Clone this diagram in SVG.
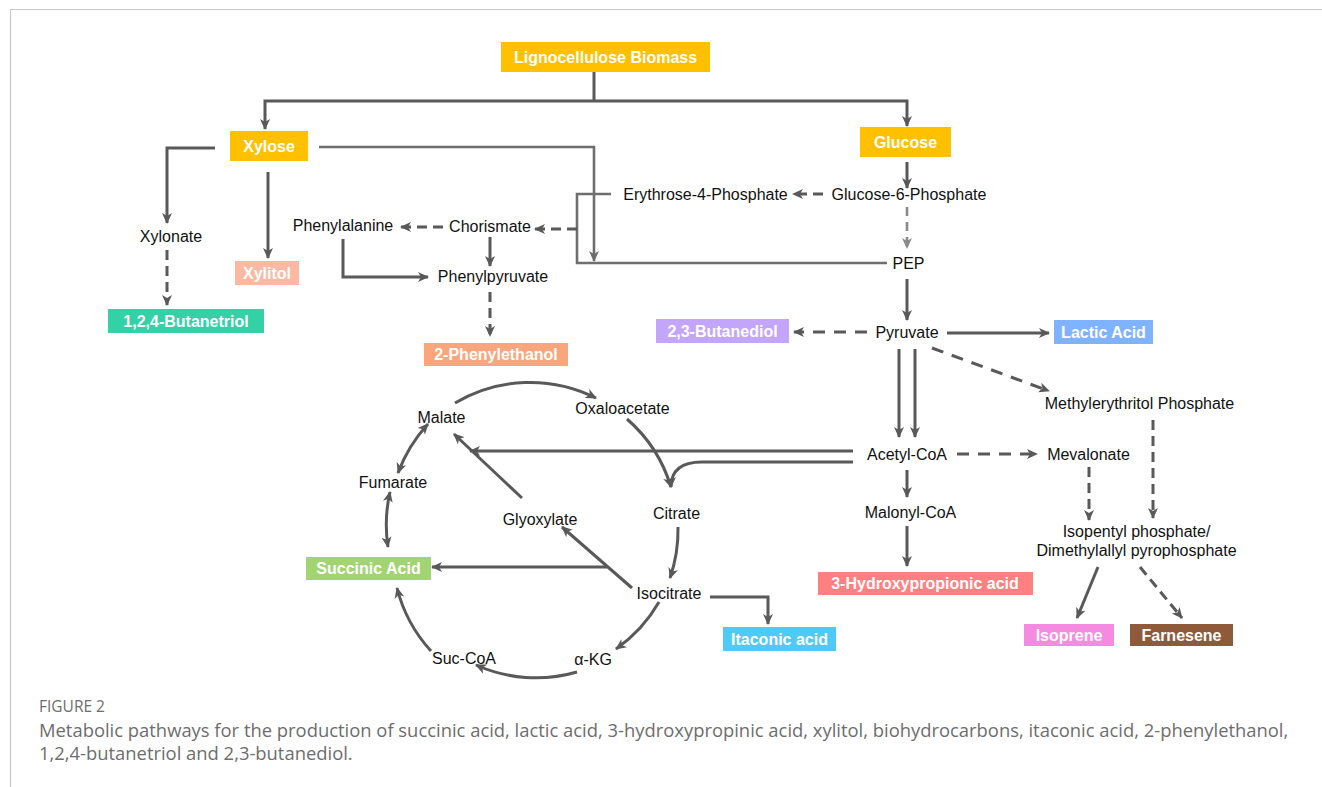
<svg xmlns="http://www.w3.org/2000/svg" width="1322" height="787" viewBox="0 0 1322 787">
<defs>
<marker id="ah" markerUnits="userSpaceOnUse" markerWidth="12" markerHeight="12" viewBox="0 0 12 12" refX="10" refY="6" orient="auto-start-reverse">
<path d="M0,1 L11,6 L0,11 L3,6 Z" fill="#595959"/>
</marker>
<marker id="ahl" markerUnits="userSpaceOnUse" markerWidth="12" markerHeight="12" viewBox="0 0 12 12" refX="10" refY="6" orient="auto">
<path d="M0,1 L11,6 L0,11 L3,6 Z" fill="#8a8a8a"/>
</marker>
<marker id="aht" markerUnits="userSpaceOnUse" markerWidth="12" markerHeight="12" viewBox="0 0 12 12" refX="10" refY="6" orient="auto">
<path d="M0,1 L11,6 L0,11 L3,6 Z" fill="#6e6e6e"/>
</marker>
</defs>
<style>
.ln{fill:none;stroke:#595959;stroke-width:3}
.th{fill:none;stroke:#6e6e6e;stroke-width:2.6}
.ds{stroke-dasharray:10 6}
.dl{stroke-dasharray:12 9}
.ar{marker-end:url(#ah)}
.lbl{font-family:"Liberation Sans",Arial,sans-serif;font-size:16px;fill:#111;text-anchor:middle}
.bt{font-family:"Liberation Sans",Arial,sans-serif;font-size:16px;font-weight:bold;fill:#fff;text-anchor:middle}
.cap{font-family:"Open Sans","Liberation Sans",sans-serif;fill:#6d6d6d}
</style>
<rect width="1322" height="787" fill="#fff"/>
<path d="M10.5,787 V9.5 H1322" fill="none" stroke="#c8c8c8" stroke-width="1.2"/>

<g id="connectors">
<path class="ln" d="M594,72 V101"/>
<path class="ln ar" d="M594,101 H265 V129"/>
<path class="ln ar" d="M594,101 H907 V126"/>
<path class="ln ar" d="M215,148 H167 V223"/>
<path class="ln ds ar" d="M167,250 V305"/>
<path class="ln ar" d="M268,172 V258"/>
<path class="th" d="M319,147 H594 V261" marker-end="url(#aht)"/>
<path class="th" d="M611,194 H577 V263 H887"/>
<path class="ln ds ar" d="M577,229 H535"/>
<path class="ln ds ar" d="M443,227 H401"/>
<path class="ln ar" d="M490,237 V266"/>
<path class="ln ar" d="M343,239 V277 H428"/>
<path class="ln ds ar" d="M490,292 V336"/>
<path class="ln ar" d="M907,162 V188"/>
<path class="ln ds ar" d="M823,194 H793"/>
<path fill="none" stroke="#8a8a8a" stroke-width="2.6" stroke-dasharray="9 6" d="M907,207 V248" marker-end="url(#ahl)"/>
<path class="ln ar" d="M907,279 V320"/>
<path class="ln dl ar" d="M867,332 H794"/>
<path class="ln ar" d="M947,333 H1049"/>
<path class="ln dl ar" d="M932,348 L1049,391"/>
<path class="ln ar" d="M899,349 V437"/>
<path class="ln ar" d="M915,349 V437"/>
<path class="ln ar" d="M853,451 H470"/>
<path class="ln ar" d="M853,462 H702 Q671,462 671,487"/>
<path class="ln dl ar" d="M957,454 H1037"/>
<path class="ln ar" d="M907,470 V497"/>
<path class="ln ar" d="M907,526 V566"/>
<path class="ln ds ar" d="M1089,467 V520"/>
<path class="ln ds ar" d="M1153,420 V518"/>
<path class="ln ar" d="M1098,567 L1077,618"/>
<path class="ln ds ar" d="M1140,567 L1182,618"/>
<path class="ln ar" d="M710,597 H768 V624"/>
<!-- TCA cycle -->
<path class="ln ar" d="M455,403 A147,147 0 0 1 596,398"/>
<path class="ln ar" d="M627,419 A147,147 0 0 1 671,487"/>
<path class="ln ar" d="M678,527 A147,147 0 0 1 670,578"/>
<path class="ln ar" d="M659,602 A147,147 0 0 1 616,649"/>
<path class="ln ar" d="M577,672 A147,147 0 0 1 476,665"/>
<path class="ln ar" d="M431,651 A147,147 0 0 1 397,588"/>
<path class="ln ar" d="M388,547 A147,147 0 0 1 390,492" marker-start="url(#ah)"/>
<path class="ln ar" d="M398,473 A147,147 0 0 1 428,424" marker-start="url(#ah)"/>
<path class="ln ar" d="M522,498 L454,434"/>
<path class="ln ar" d="M632,588 L562,527"/>
<path class="ln ar" d="M607,567 H432"/>
</g>

<g id="lignocellulose"><rect x="501" y="42" width="209" height="30" fill="#FFC000"/><text class="bt" x="605.5" y="63">Lignocellulose Biomass</text></g>
<g id="xylose"><rect x="230" y="131" width="78" height="30" fill="#FFC000"/><text class="bt" x="269" y="152">Xylose</text></g>
<g id="glucose"><rect x="860" y="127" width="91" height="30" fill="#FFC000"/><text class="bt" x="905.5" y="148">Glucose</text></g>
<g id="butanetriol"><rect x="108" y="309" width="156" height="24" fill="#33D1A6"/><text class="bt" x="186" y="327">1,2,4-Butanetriol</text></g>
<g id="xylitol"><rect x="235" y="261" width="64" height="24" fill="#FBB9A4"/><text class="bt" x="267" y="279">Xylitol</text></g>
<g id="phenylethanol"><rect x="424" y="343" width="144" height="23" fill="#F9A67C"/><text class="bt" x="496" y="360">2-Phenylethanol</text></g>
<g id="butanediol"><rect x="656" y="319" width="133" height="24" fill="#C3A5FB"/><text class="bt" x="722.5" y="337">2,3-Butanediol</text></g>
<g id="lactic"><rect x="1054" y="320" width="99" height="24" fill="#7FB3FF"/><text class="bt" x="1103.5" y="338">Lactic Acid</text></g>
<g id="hp3"><rect x="818" y="572" width="215" height="23" fill="#FF8080"/><text class="bt" x="925" y="589">3-Hydroxypropionic acid</text></g>
<g id="succinic"><rect x="306" y="557" width="125" height="23" fill="#A3D472"/><text class="bt" x="368.5" y="574">Succinic Acid</text></g>
<g id="itaconic"><rect x="723" y="627" width="113" height="24" fill="#4FC9F6"/><text class="bt" x="779.5" y="645">Itaconic acid</text></g>
<g id="isoprene"><rect x="1024" y="624" width="90" height="22" fill="#F58BE1"/><text class="bt" x="1069" y="641">Isoprene</text></g>
<g id="farnesene"><rect x="1130" y="624" width="103" height="22" fill="#8E5A3A"/><text class="bt" x="1181.5" y="641">Farnesene</text></g>

<g id="xylonate"><text class="lbl" x="171" y="242">Xylonate</text></g>
<g id="phenylalanine"><text class="lbl" x="343" y="231">Phenylalanine</text></g>
<g id="chorismate"><text class="lbl" x="490" y="232">Chorismate</text></g>
<g id="phenylpyruvate"><text class="lbl" x="493" y="282">Phenylpyruvate</text></g>
<g id="e4p"><text class="lbl" x="705.5" y="200">Erythrose-4-Phosphate</text></g>
<g id="g6p"><text class="lbl" x="909" y="200">Glucose-6-Phosphate</text></g>
<g id="pep"><text class="lbl" x="908.5" y="269">PEP</text></g>
<g id="pyruvate"><text class="lbl" x="907" y="338">Pyruvate</text></g>
<g id="mep"><text class="lbl" x="1139.5" y="408.5">Methylerythritol Phosphate</text></g>
<g id="acetylcoa"><text class="lbl" x="907" y="460">Acetyl-CoA</text></g>
<g id="mevalonate"><text class="lbl" x="1088.5" y="460">Mevalonate</text></g>
<g id="malonylcoa"><text class="lbl" x="910.5" y="517.5">Malonyl-CoA</text></g>
<g id="ipp"><text class="lbl" x="1136.5" y="536.5">Isopentyl phosphate/</text><text class="lbl" x="1136.5" y="556">Dimethylallyl pyrophosphate</text></g>
<g id="malate"><text class="lbl" x="441.5" y="422.5">Malate</text></g>
<g id="oxaloacetate"><text class="lbl" x="622.5" y="413.5">Oxaloacetate</text></g>
<g id="fumarate"><text class="lbl" x="393" y="487.5">Fumarate</text></g>
<g id="citrate"><text class="lbl" x="676.5" y="519">Citrate</text></g>
<g id="glyoxylate"><text class="lbl" x="540" y="525">Glyoxylate</text></g>
<g id="isocitrate"><text class="lbl" x="669" y="599">Isocitrate</text></g>
<g id="akg"><text class="lbl" x="593" y="665">α-KG</text></g>
<g id="succoa"><text class="lbl" x="464" y="664">Suc-CoA</text></g>

<g id="caption">
<text class="cap" x="39" y="712" font-size="15.5">FIGURE 2</text>
<text class="cap" x="39" y="737" font-size="18.4">Metabolic pathways for the production of succinic acid, lactic acid, 3-hydroxypropinic acid, xylitol, biohydrocarbons, itaconic acid, 2-phenylethanol,</text>
<text class="cap" x="39" y="760" font-size="18.4">1,2,4-butanetriol and 2,3-butanediol.</text>
</g>
</svg>
